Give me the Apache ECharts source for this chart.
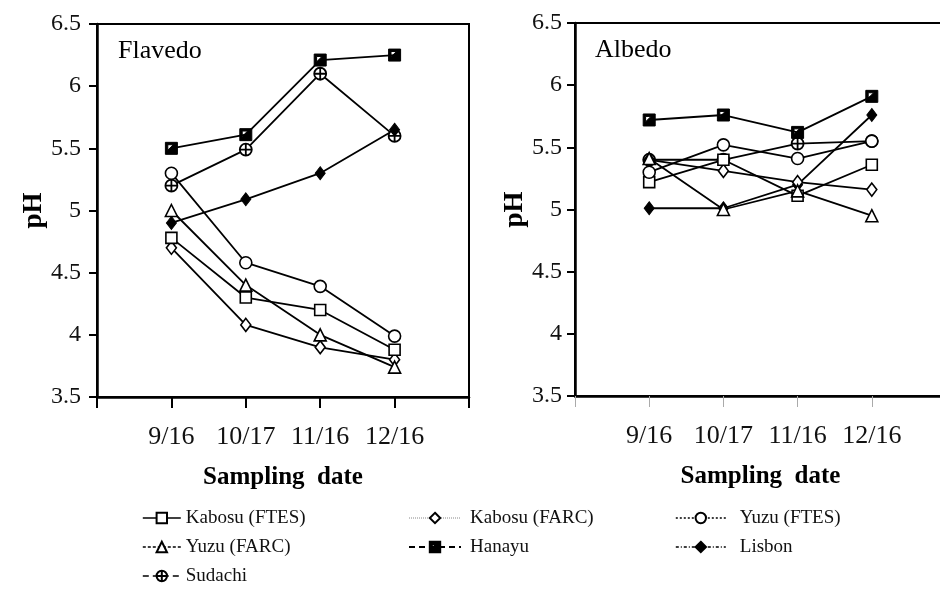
<!DOCTYPE html>
<html>
<head>
<meta charset="utf-8">
<script src="https://cdn.jsdelivr.net/npm/echarts@6/dist/echarts.min.js"></script>
<style>html,body{margin:0;padding:0;background:#fff}#c{width:940px;height:603px}</style>
</head>
<body>
<div id="c"></div>
<script>
// ---- data ----
var dates = ['9/16', '10/17', '11/16', '12/16'];
var seriesNames = ['Kabosu (FTES)', 'Kabosu (FARC)', 'Yuzu (FTES)', 'Yuzu (FARC)', 'Hanayu', 'Lisbon', 'Sudachi'];
var yTicks = [3.5, 4, 4.5, 5, 5.5, 6, 6.5];
// Flavedo
var kabosuFTES_F = [4.78, 4.30, 4.20, 3.88];
var kabosuFARC_F = [4.70, 4.08, 3.90, 3.80];
var yuzuFTES_F   = [5.30, 4.58, 4.39, 3.99];
var yuzuFARC_F   = [5.00, 4.40, 4.00, 3.74];
var hanayu_F     = [5.50, 5.61, 6.21, 6.25];
var lisbon_F     = [4.90, 5.09, 5.30, 5.65];
var sudachi_F    = [5.20, 5.49, 6.10, 5.60];
// Albedo
var kabosuFTES_A = [5.22, 5.40, 5.11, 5.36];
var kabosuFARC_A = [5.40, 5.31, 5.22, 5.16];
var yuzuFTES_A   = [5.30, 5.52, 5.41, 5.55];
var yuzuFARC_A   = [5.41, 5.00, 5.15, 4.95];
var hanayu_A     = [5.72, 5.76, 5.62, 5.91];
var lisbon_A     = [5.01, 5.01, 5.20, 5.76];
var sudachi_A    = [5.40, 5.40, 5.53, 5.55];

var flavedo = {'Kabosu (FTES)': kabosuFTES_F, 'Kabosu (FARC)': kabosuFARC_F, 'Yuzu (FTES)': yuzuFTES_F,
  'Yuzu (FARC)': yuzuFARC_F, 'Hanayu': hanayu_F, 'Lisbon': lisbon_F, 'Sudachi': sudachi_F};
var albedo = {'Kabosu (FTES)': kabosuFTES_A, 'Kabosu (FARC)': kabosuFARC_A, 'Yuzu (FTES)': yuzuFTES_A,
  'Yuzu (FARC)': yuzuFARC_A, 'Hanayu': hanayu_A, 'Lisbon': lisbon_A, 'Sudachi': sudachi_A};

// ---- styles ----
var FONT = 'Liberation Serif';
var open = {color: '#fff', borderColor: '#000', borderWidth: 1.6};
var filled = {color: '#000', borderColor: '#000', borderWidth: 1};
var hanayuPath = 'path://M0,0 L20,0 L20,20 L0,20 Z M4,4 L4,13 L13,4 Z';
var sudachiPath = 'path://M10,0 A10,10 0 1,1 9.99,0 Z M10,0 L10,20 M0,10 L20,10';
var style = {
  'Kabosu (FTES)': {symbol: 'rect', size: 11, item: open, leg: {type: 'solid', width: 1.6, color: '#000'}},
  'Kabosu (FARC)': {symbol: 'diamond', size: [10, 13], item: open, leg: {type: 'dotted', width: 1, color: '#888'}},
  'Yuzu (FTES)': {symbol: 'circle', size: 12, item: open, leg: {type: [2, 2], width: 1.6, color: '#000'}},
  'Yuzu (FARC)': {symbol: 'triangle', size: 12, item: open, leg: {type: [3, 2], width: 1.6, color: '#000'}},
  'Hanayu': {symbol: hanayuPath, size: 12, item: filled, leg: {type: [6, 4], width: 2, color: '#000'}},
  'Lisbon': {symbol: 'diamond', size: [10, 13], item: filled, leg: {type: [3, 2, 1, 2], width: 1.6, color: '#000'}},
  'Sudachi': {symbol: sudachiPath, size: 12, item: {color: '#fff', borderColor: '#000', borderWidth: 1.8}, leg: {type: [6, 4], width: 1.6, color: '#000'}}
};
var drawOrder = ['Sudachi', 'Lisbon', 'Kabosu (FARC)', 'Kabosu (FTES)', 'Yuzu (FTES)', 'Yuzu (FARC)', 'Hanayu'];

function makeSeries(dataset, idx) {
  return drawOrder.map(function (name) {
    var s = style[name];
    return {
      name: name, type: 'line', xAxisIndex: idx, yAxisIndex: idx,
      data: dataset[name].map(function (v, i) { return [i, v]; }),
      symbol: s.symbol, symbolSize: s.size, symbolKeepAspect: true,
      lineStyle: {color: '#000', width: 1.8, type: 'solid'},
      itemStyle: s.item,
      emphasis: {disabled: true}
    };
  });
}

function xAxis(idx, tickColor, tickW) {
  return {
    type: 'value', gridIndex: idx, min: -1, max: 4, interval: 1,
    axisLine: {show: true, onZero: false, lineStyle: {color: '#000', width: 2.5}},
    axisTick: {show: true, length: 11, lineStyle: {color: tickColor, width: tickW}},
    axisLabel: {margin: 27, fontFamily: FONT, fontSize: 26, color: '#111',
      formatter: function (v) { return dates[v] !== undefined ? dates[v] : ''; }},
    splitLine: {show: false},
    name: 'Sampling  date', nameLocation: 'middle', nameGap: 68,
    nameTextStyle: {fontFamily: FONT, fontSize: 25, fontWeight: 'bold', color: '#000'}
  };
}
function yAxis(idx, margin) {
  return {
    type: 'value', gridIndex: idx, min: yTicks[0], max: yTicks[yTicks.length - 1], interval: 0.5,
    axisLine: {show: true, onZero: false, lineStyle: {color: '#000', width: 2.5}},
    axisTick: {show: true, length: 8, lineStyle: {color: '#000', width: 2}},
    axisLabel: {margin: margin, fontFamily: FONT, fontSize: 24, color: '#111'},
    splitLine: {show: false},
    name: 'pH', nameLocation: 'middle', nameGap: 44, nameRotate: 90,
    nameTextStyle: {fontFamily: FONT, fontSize: 27, fontWeight: 'bold', color: '#000'}
  };
}

function legendData(names) {
  return names.map(function (n) { return {name: n, lineStyle: style[n].leg}; });
}
function legend(left, w, pad, names) {
  return {
    orient: 'vertical', left: left, top: 503, itemWidth: w, itemHeight: 13, itemGap: 9,
    selectedMode: false, data: legendData(names),
    textStyle: {fontFamily: FONT, fontSize: 19, color: '#111', lineHeight: 20, padding: [0, 0, 0, pad]}
  };
}

var chart = echarts.init(document.getElementById('c'), null, {renderer: 'canvas'});
chart.setOption({
  animation: false,
  backgroundColor: '#fff',
  title: [
    {text: 'Flavedo', left: 113, top: 33, textStyle: {fontFamily: FONT, fontSize: 26, fontWeight: 'normal', color: '#000'}},
    {text: 'Albedo', left: 590, top: 32, textStyle: {fontFamily: FONT, fontSize: 26, fontWeight: 'normal', color: '#000'}}
  ],
  grid: [
    {left: 97, top: 24, width: 372, height: 373, show: true, borderColor: '#000', borderWidth: 2,
      backgroundColor: 'transparent', containLabel: false, outerBoundsMode: 'none'},
    {left: 575, top: 23, width: 371, height: 373, show: true, borderColor: '#000', borderWidth: 2,
      backgroundColor: 'transparent', containLabel: false, outerBoundsMode: 'none'}
  ],
  xAxis: [xAxis(0, '#000', 2), xAxis(1, '#aaa', 1)],
  yAxis: [yAxis(0, 16), yAxis(1, 13)],
  legend: [
    legend(137, 38, 0, ['Kabosu (FTES)', 'Yuzu (FARC)', 'Sudachi']),
    legend(403, 52, 4, ['Kabosu (FARC)', 'Hanayu']),
    legend(670, 50, 9, ['Yuzu (FTES)', 'Lisbon'])
  ],
  series: makeSeries(flavedo, 0).concat(makeSeries(albedo, 1))
});
</script>
</body>
</html>
